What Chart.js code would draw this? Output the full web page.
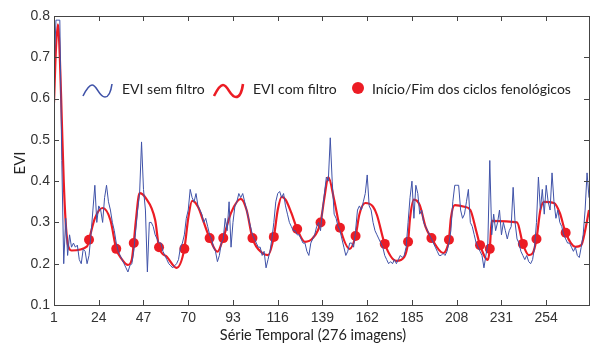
<!DOCTYPE html>
<html>
<head>
<meta charset="utf-8">
<script src="https://cdn.jsdelivr.net/npm/chart.js@4.4.0/dist/chart.umd.min.js"></script>
<style>
html, body { margin: 0; padding: 0; background: #fff; }
</style>
</head>
<body>
<canvas id="grafico" width="594" height="347"></canvas>
<script>
// EVI sem filtro (imagens 1..276)
var eviBruto = [
  0.66, 0.79, 0.79, 0.79, 0.45, 0.20, 0.31, 0.22, 0.27, 0.24,
  0.25, 0.24, 0.245, 0.21, 0.20, 0.235, 0.23, 0.20, 0.22, 0.27,
  0.33, 0.39, 0.30, 0.34, 0.33, 0.30, 0.36, 0.39, 0.35, 0.33,
  0.30, 0.28, 0.25, 0.23, 0.22, 0.21, 0.20, 0.19, 0.18, 0.195,
  0.20, 0.23, 0.28, 0.33, 0.37, 0.495, 0.38, 0.33, 0.18, 0.30,
  0.30, 0.29, 0.27, 0.26, 0.25, 0.25, 0.23, 0.22, 0.21, 0.20,
  0.195, 0.19, 0.195, 0.20, 0.21, 0.24, 0.25, 0.27, 0.31, 0.33,
  0.38, 0.36, 0.35, 0.37, 0.34, 0.33, 0.32, 0.30, 0.31, 0.29,
  0.27, 0.26, 0.24, 0.23, 0.205, 0.22, 0.25, 0.26, 0.31, 0.28,
  0.35, 0.24, 0.30, 0.34, 0.35, 0.37, 0.36, 0.37, 0.35, 0.33,
  0.31, 0.29, 0.27, 0.26, 0.25, 0.24, 0.24, 0.22, 0.23, 0.19,
  0.21, 0.23, 0.26, 0.30, 0.35, 0.37, 0.375, 0.36, 0.37, 0.34,
  0.32, 0.30, 0.29, 0.28, 0.28, 0.27, 0.27, 0.26, 0.25, 0.25,
  0.23, 0.22, 0.25, 0.26, 0.27, 0.29, 0.30, 0.28, 0.33, 0.37,
  0.41, 0.40, 0.505, 0.40, 0.32, 0.31, 0.29, 0.28, 0.26, 0.24,
  0.22, 0.23, 0.25, 0.25, 0.24, 0.28, 0.33, 0.34, 0.33, 0.35,
  0.37, 0.415, 0.34, 0.33, 0.30, 0.28, 0.27, 0.26, 0.25, 0.24,
  0.22, 0.21, 0.20, 0.205, 0.20, 0.21, 0.20, 0.21, 0.22, 0.215,
  0.22, 0.24, 0.30, 0.36, 0.40, 0.31, 0.39, 0.37, 0.32, 0.33,
  0.30, 0.29, 0.28, 0.27, 0.26, 0.25, 0.24, 0.23, 0.22, 0.22,
  0.225, 0.22, 0.23, 0.25, 0.28, 0.35, 0.39, 0.39, 0.39, 0.33,
  0.31, 0.32, 0.35, 0.38, 0.30, 0.29, 0.27, 0.25, 0.24, 0.23,
  0.22, 0.19, 0.22, 0.25, 0.45, 0.27, 0.32, 0.28, 0.30, 0.33,
  0.27, 0.30, 0.28, 0.26, 0.28, 0.29, 0.385, 0.30, 0.26, 0.25,
  0.23, 0.22, 0.21, 0.22, 0.205, 0.20, 0.21, 0.24, 0.30, 0.41,
  0.33, 0.38, 0.32, 0.39, 0.35, 0.33, 0.42, 0.35, 0.31, 0.33,
  0.30, 0.29, 0.27, 0.26, 0.25, 0.25, 0.24, 0.23, 0.24, 0.22,
  0.215, 0.24, 0.27, 0.33, 0.42, 0.36
];

var filtroImg = [1, 2, 3, 4, 5, 6, 7, 8, 9, 10, 18, 19, 22, 26, 30, 33, 36, 39, 41, 42,
  43, 45, 48, 53, 55, 59, 64, 68, 70, 72, 75, 78, 81, 85, 88, 92, 97, 100, 103, 108,
  111, 114, 116, 118, 120, 123, 126, 130, 134, 138, 140, 142, 145, 148, 153, 156, 158, 161, 165, 167,
  171, 177, 181, 183, 184, 186, 189, 192, 195, 201, 203, 204, 205, 207, 212, 215, 218, 220, 224, 225,
  226, 239, 242, 245, 247, 249, 251, 253, 258, 261, 264, 269, 272, 274, 276];
var filtroEvi = [0.59, 0.72, 0.78, 0.70, 0.55, 0.40, 0.30, 0.25, 0.235, 0.232, 0.242, 0.258, 0.31, 0.335, 0.306, 0.236, 0.21, 0.197, 0.21, 0.25,
  0.30, 0.371, 0.36, 0.306, 0.24, 0.217, 0.19, 0.236, 0.31, 0.352, 0.338, 0.30, 0.262, 0.229, 0.262, 0.323, 0.357, 0.33, 0.262, 0.226,
  0.221, 0.265, 0.33, 0.362, 0.355, 0.323, 0.284, 0.253, 0.262, 0.30, 0.36, 0.41, 0.355, 0.287, 0.236, 0.267, 0.32, 0.347, 0.338, 0.318,
  0.248, 0.207, 0.216, 0.253, 0.31, 0.355, 0.342, 0.289, 0.262, 0.226, 0.238, 0.258, 0.31, 0.342, 0.338, 0.33, 0.28, 0.245, 0.209, 0.236,
  0.304, 0.30, 0.248, 0.221, 0.225, 0.26, 0.33, 0.35, 0.347, 0.323, 0.275, 0.241, 0.245, 0.28, 0.33];

// Início/Fim dos ciclos fenológicos
var cicloImg = [19, 33, 42, 55, 68, 81, 88, 103, 114, 126, 138, 148, 156, 171, 183, 195, 204, 220, 225, 242, 249, 264];
var cicloEvi = [0.258, 0.236, 0.25, 0.24, 0.236, 0.262, 0.262, 0.262, 0.265, 0.284, 0.30, 0.287, 0.267, 0.248, 0.253, 0.262, 0.258, 0.245, 0.236, 0.248, 0.26, 0.275];

var ticksX = [1, 24, 47, 70, 93, 116, 139, 162, 185, 208, 231, 254];
var ticksY = [0.1, 0.2, 0.3, 0.4, 0.5, 0.6, 0.7, 0.8];

var azul = '#3f52a8';
var vermelho = '#ec1c24';
var corEixo = '#333333';

function pares(xs, ys) {
  return xs.map(function (x, i) { return { x: x, y: ys[i] }; });
}

// moldura com marcas para dentro, titulos e legenda
var molduraPlugin = {
  id: 'moldura',
  afterDraw: function (chart) {
    var ctx = chart.ctx;
    var a = chart.chartArea;
    var sx = chart.scales.x, sy = chart.scales.y;
    ctx.save();
    ctx.strokeStyle = '#444';
    ctx.lineWidth = 1;
    ctx.strokeRect(a.left + 0.5, a.top + 0.5, a.right - a.left, a.bottom - a.top);
    ctx.beginPath();
    ticksX.forEach(function (v) {
      var px = Math.round(sx.getPixelForValue(v)) + 0.5;
      ctx.moveTo(px, a.bottom); ctx.lineTo(px, a.bottom - 5);
      ctx.moveTo(px, a.top); ctx.lineTo(px, a.top + 5);
    });
    ticksY.forEach(function (v) {
      var py = Math.round(sy.getPixelForValue(v)) + 0.5;
      ctx.moveTo(a.left, py); ctx.lineTo(a.left + 5, py);
      ctx.moveTo(a.right, py); ctx.lineTo(a.right - 5, py);
    });
    ctx.stroke();

    // titulos dos eixos
    ctx.fillStyle = '#222';
    ctx.font = '14.5px Lato';
    ctx.textAlign = 'center';
    ctx.textBaseline = 'middle';
    ctx.fillText('Série Temporal (276 imagens)', 313, 335);
    ctx.save();
    ctx.translate(20, 163);
    ctx.rotate(-Math.PI / 2);
    ctx.font = '15px Lato';
    ctx.fillText('EVI', 0, 0);
    ctx.restore();

    // legenda
    function onda(x, y, cor, lw) {
      ctx.beginPath();
      ctx.strokeStyle = cor;
      ctx.lineWidth = lw;
      ctx.moveTo(x, y + 8);
      ctx.bezierCurveTo(x + 3, y + 2, x + 6, y - 3, x + 9, y - 3);
      ctx.bezierCurveTo(x + 14, y - 3, x + 16, y + 9, x + 22, y + 9);
      ctx.bezierCurveTo(x + 26, y + 9, x + 28, y + 3, x + 29, y - 4);
      ctx.stroke();
    }
    onda(83, 88, azul, 1.6);
    onda(214, 88, vermelho, 2.6);
    ctx.beginPath();
    ctx.fillStyle = vermelho;
    ctx.arc(358, 88, 6, 0, Math.PI * 2);
    ctx.fill();
    ctx.fillStyle = '#222';
    ctx.textAlign = 'left';
    ctx.font = '14px Lato';
    ctx.fillText('EVI sem filtro', 122, 89);
    ctx.fillText('EVI com filtro', 253, 89);
    ctx.fillText('Início/Fim dos ciclos fenológicos', 372, 89);
    ctx.restore();
  }
};

new Chart(document.getElementById('grafico'), {
  type: 'line',
  data: {
    datasets: [
      {
        label: 'EVI sem filtro',
        data: pares(eviBruto.map(function (v, i) { return i + 1; }), eviBruto),
        borderColor: azul,
        borderWidth: 1,
        pointRadius: 0,
        tension: 0
      },
      {
        label: 'EVI com filtro',
        data: pares(filtroImg, filtroEvi),
        borderColor: vermelho,
        borderWidth: 2.2,
        pointRadius: 0,
        cubicInterpolationMode: 'monotone'
      },
      {
        label: 'Início/Fim dos ciclos fenológicos',
        data: pares(cicloImg, cicloEvi),
        showLine: false,
        pointRadius: 5,
        pointBackgroundColor: vermelho,
        pointBorderColor: vermelho,
        pointBorderWidth: 0
      }
    ]
  },
  options: {
    responsive: false,
    animation: false,
    layout: { padding: { left: 0, top: 16, right: 1, bottom: 0 } },
    plugins: { legend: { display: false }, tooltip: { enabled: false } },
    scales: {
      x: {
        type: 'linear',
        min: 1,
        max: 276,
        grid: { display: false, drawTicks: false },
        border: { display: false },
        afterBuildTicks: function (s) { s.ticks = ticksX.map(function (v) { return { value: v }; }); },
        afterFit: function (s) { s.height = 42; },
        ticks: { color: corEixo, font: { family: 'Liberation Sans', size: 14 }, padding: 5, maxRotation: 0, autoSkip: false }
      },
      y: {
        min: 0.1,
        max: 0.8,
        grid: { display: false, drawTicks: false },
        border: { display: false },
        afterBuildTicks: function (s) { s.ticks = ticksY.map(function (v) { return { value: v }; }); },
        afterFit: function (s) { s.width = 54; },
        ticks: {
          color: corEixo,
          font: { family: 'Liberation Sans', size: 14 },
          padding: 4,
          callback: function (v) { return v.toFixed(1); }
        }
      }
    }
  },
  plugins: [molduraPlugin]
});
</script>
</body>
</html>
